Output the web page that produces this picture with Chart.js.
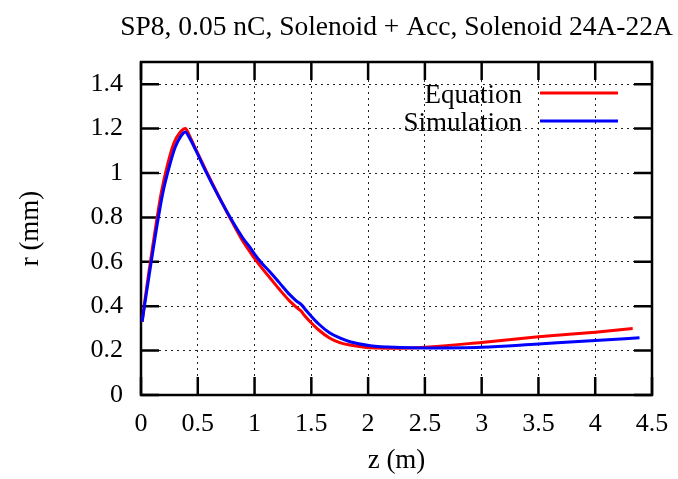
<!DOCTYPE html>
<html>
<head>
<meta charset="utf-8">
<script src="https://cdn.jsdelivr.net/npm/chart.js@4.4.0/dist/chart.umd.min.js"></script>
<style>
  html, body { margin: 0; padding: 0; background: #fff; }
</style>
</head>
<body>
<canvas id="beamChart" width="678" height="479"></canvas>
<script>
var titleText = 'SP8, 0.05 nC, Solenoid + Acc, Solenoid 24A-22A';
var zTicks = [0, 0.5, 1, 1.5, 2, 2.5, 3, 3.5, 4, 4.5];
var rTicks = [0, 0.2, 0.4, 0.6, 0.8, 1, 1.2, 1.4];

// envelope from the equation
var eqZ = [0.01, 0.03, 0.06, 0.09, 0.13, 0.18, 0.24, 0.29, 0.34, 0.39, 0.43, 0.48, 0.575, 0.68, 0.8, 0.9, 0.96, 1.0, 1.07, 1.14, 1.22, 1.31, 1.37, 1.41, 1.44, 1.49, 1.56, 1.66, 1.75, 1.84, 2.02, 2.28, 2.5, 3.0, 3.5, 4.0, 4.33];
var eqR = [0.33, 0.41, 0.52, 0.625, 0.76, 0.915, 1.05, 1.135, 1.18, 1.2, 1.165, 1.11, 1.008, 0.9, 0.782, 0.69, 0.645, 0.615, 0.568, 0.525, 0.475, 0.423, 0.395, 0.378, 0.358, 0.33, 0.295, 0.257, 0.236, 0.225, 0.213, 0.211, 0.215, 0.237, 0.262, 0.283, 0.30];

// envelope from the tracking simulation
var simZ = [0.01, 0.03, 0.06, 0.09, 0.135, 0.19, 0.25, 0.30, 0.35, 0.39, 0.42, 0.48, 0.575, 0.68, 0.8, 0.9, 0.96, 1.0, 1.07, 1.14, 1.22, 1.31, 1.37, 1.41, 1.44, 1.49, 1.56, 1.66, 1.75, 1.84, 2.02, 2.28, 2.5, 3.0, 3.5, 4.0, 4.39];
var simR = [0.33, 0.40, 0.50, 0.60, 0.745, 0.905, 1.03, 1.115, 1.165, 1.185, 1.165, 1.105, 1.003, 0.898, 0.787, 0.705, 0.665, 0.635, 0.59, 0.552, 0.505, 0.452, 0.423, 0.408, 0.39, 0.36, 0.322, 0.28, 0.257, 0.24, 0.222, 0.214, 0.212, 0.215, 0.23, 0.245, 0.258];

function toPoints(xs, ys) {
	return xs.map(function(x, i) { return { x: x, y: ys[i] }; });
}

var serif = '"Liberation Serif", "Times New Roman", serif';

// border box with inward ticks on all four sides
var framePlugin = {
	id: 'frame',
	beforeDatasetsDraw: function(chart) {
		var ctx = chart.ctx, a = chart.chartArea;
		var xs = chart.scales.x, ys = chart.scales.y;
		var len = 18;
		ctx.save();
		ctx.strokeStyle = '#000';
		ctx.lineWidth = 2.5;
		ctx.beginPath();
		xs.ticks.forEach(function(t, i) {
			var px = xs.getPixelForTick(i);
			ctx.moveTo(px, a.bottom); ctx.lineTo(px, a.bottom - len);
			ctx.moveTo(px, a.top); ctx.lineTo(px, a.top + len);
		});
		ys.ticks.forEach(function(t, i) {
			var py = ys.getPixelForTick(i);
			ctx.moveTo(a.left, py); ctx.lineTo(a.left + len, py);
			ctx.moveTo(a.right, py); ctx.lineTo(a.right - len, py);
		});
		ctx.stroke();
		ctx.strokeRect(a.left, a.top, a.right - a.left, a.bottom - a.top);
		ctx.restore();
	}
};

// title centred over the plot, key in the top right corner
var textPlugin = {
	id: 'texts',
	afterDraw: function(chart) {
		var ctx = chart.ctx, a = chart.chartArea;
		ctx.save();
		ctx.fillStyle = '#000';
		ctx.font = '27.5px ' + serif;
		ctx.textAlign = 'center';
		ctx.textBaseline = 'middle';
		ctx.fillText(titleText, (a.left + a.right) / 2, 28);

		ctx.font = '27px ' + serif;
		ctx.textAlign = 'right';
		chart.data.datasets.forEach(function(ds, i) {
			var y = a.top + 31 + i * 28;
			ctx.fillStyle = '#000';
			ctx.fillText(ds.label, a.right - 130, y + 3);
			ctx.strokeStyle = ds.borderColor;
			ctx.lineWidth = 3;
			ctx.beginPath();
			ctx.moveTo(a.right - 112, y);
			ctx.lineTo(a.right - 34, y);
			ctx.stroke();
		});
		ctx.restore();
	}
};

var ctx = document.getElementById('beamChart');
var beamChart = new Chart(ctx, {
	type: 'line',
	data: {
		datasets: [{
			label: 'Equation',
			data: toPoints(eqZ, eqR),
			borderColor: '#ff0000',
			borderWidth: 3,
			pointRadius: 0,
			cubicInterpolationMode: 'monotone',
			order: 1
		}, {
			label: 'Simulation',
			data: toPoints(simZ, simR),
			borderColor: '#0000ff',
			borderWidth: 3,
			pointRadius: 0,
			cubicInterpolationMode: 'monotone',
			order: 0
		}]
	},
	plugins: [framePlugin, textPlugin],
	options: {
		responsive: false,
		animation: false,
		layout: { padding: { top: 62, right: 26, left: 0, bottom: 0 } },
		plugins: {
			legend: { display: false },
			title: { display: false },
			tooltip: { enabled: false }
		},
		scales: {
			x: {
				type: 'linear',
				min: 0,
				max: 4.5,
				afterBuildTicks: function(scale) {
					scale.ticks = zTicks.map(function(v) { return { value: v }; });
				},
				afterFit: function(scale) {
					scale.height = 84;
					scale.paddingLeft = 0;
					scale.paddingRight = 0;
				},
				grid: { color: '#222', lineWidth: 1, drawTicks: false },
				border: { display: false, dash: [2, 4] },
				ticks: {
					padding: 14,
					color: '#000',
					font: { family: serif, size: 26 },
					maxRotation: 0,
					callback: function(v) { return String(v); }
				},
				title: {
					display: true,
					text: 'z (m)',
					color: '#000',
					font: { family: serif, size: 27 },
					padding: { top: 0, bottom: 2 }
				}
			},
			y: {
				type: 'linear',
				min: 0,
				max: 1.5,
				afterBuildTicks: function(scale) {
					scale.ticks = rTicks.map(function(v) { return { value: v }; });
				},
				afterFit: function(scale) {
					scale.width = 141;
					scale.paddingTop = 0;
					scale.paddingBottom = 0;
				},
				grid: { color: '#222', lineWidth: 1, drawTicks: false },
				border: { display: false, dash: [2, 4] },
				ticks: {
					padding: 18,
					color: '#000',
					font: { family: serif, size: 26 },
					callback: function(v) { return String(v); }
				},
				title: {
					display: true,
					text: 'r (mm)',
					color: '#000',
					font: { family: serif, size: 27 },
					padding: { top: 15, bottom: 0 }
				}
			}
		}
	}
});
</script>
</body>
</html>
